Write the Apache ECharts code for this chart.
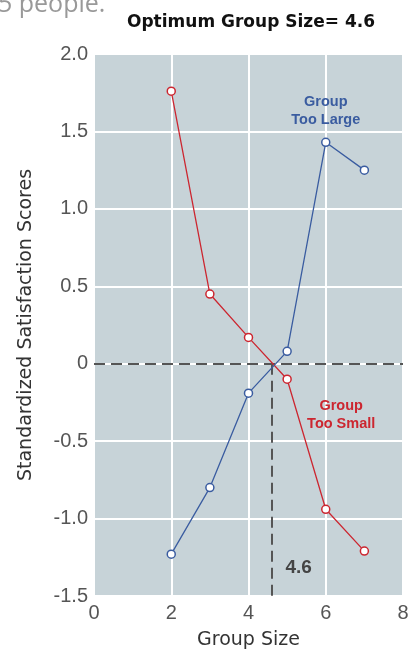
<!DOCTYPE html>
<html>
<head>
<meta charset="utf-8">
<script src="https://cdn.jsdelivr.net/npm/echarts@6/dist/echarts.min.js"></script>
<style>
  html, body { margin: 0; padding: 0; background: #fff; }
  #chart { width: 411px; height: 652px; }
</style>
</head>
<body>
<div id="chart"></div>
<script>
// group sizes on the x axis
const groupSize = [2, 3, 4, 5, 6, 7]
// "too small" curve (red) and "too large" curve (blue)
const tooSmall = [1.76, 0.45, 0.17, -0.10, -0.94, -1.21]
const tooLarge = [-1.23, -0.80, -0.19, 0.08, 1.43, 1.25]
const optimum = 4.6

const red = '#cc2630'
const blue = '#3a5ca0'

const pairs = (ys) => groupSize.map((x, i) => [x, ys[i]])

const chart = echarts.init(document.getElementById('chart'))

const option = {
    backgroundColor: '#fff',
    title: {
        text: 'Optimum Group Size= 4.6',
        left: 246,
        textAlign: 'center',
        top: 9,
        textStyle: { fontFamily: 'DejaVu Sans', fontWeight: 'bold', fontSize: 17, color: '#111' }
    },
    graphic: [{
        type: 'text',
        left: -2,
        top: -8,
        style: { text: '5 people.', font: '25px "Open Sans"', fill: '#999' }
    }],
    grid: {
        left: 94,
        right: 8,
        top: 54,
        bottom: 56,
        outerBoundsMode: 'none',
        show: true,
        backgroundColor: '#c7d3d8',
        borderWidth: 0
    },
    xAxis: {
        type: 'value',
        min: 0,
        max: 8,
        interval: 2,
        name: 'Group Size',
        nameLocation: 'middle',
        nameGap: 35,
        nameTextStyle: { fontFamily: 'DejaVu Sans', fontSize: 19, color: '#333' },
        axisLine: { show: false },
        axisTick: { show: false },
        axisLabel: { fontFamily: 'Liberation Sans', fontSize: 20, color: '#555', margin: 7 },
        splitLine: { lineStyle: { color: '#fff', width: 2 } }
    },
    yAxis: {
        type: 'value',
        min: -1.5,
        max: 2,
        interval: 0.5,
        name: 'Standardized Satisfaction Scores',
        nameLocation: 'middle',
        nameGap: 58,
        nameTextStyle: { fontFamily: 'DejaVu Sans', fontSize: 19, color: '#333' },
        axisLine: { show: false },
        axisTick: { show: false },
        axisLabel: {
            fontFamily: 'Liberation Sans', fontSize: 20, color: '#555', margin: 6,
            formatter: v => v === 0 ? '0' : v.toFixed(1)
        },
        splitLine: { lineStyle: { color: '#fff', width: 2 } }
    },
    series: [
        {
            name: 'Group Too Small',
            type: 'line',
            data: pairs(tooSmall),
            symbol: 'circle',
            symbolSize: 8,
            z: 5,
            lineStyle: { color: red, width: 1.3 },
            itemStyle: { color: '#fff', borderColor: red, borderWidth: 1.5 },
            markLine: {
                silent: true,
                symbol: 'none',
                z: 3,
                label: { show: false },
                lineStyle: { color: '#555', width: 2, type: [11, 6] },
                data: [
                    [{ coord: [0, 0] }, { coord: [8, 0] }],
                    [{ coord: [optimum, 0] }, { coord: [optimum, -1.5] }]
                ]
            },
            markPoint: {
                silent: true,
                symbol: 'circle',
                symbolSize: 0,
                data: [
                    {
                        coord: [6.4, -0.33],
                        label: {
                            show: true, formatter: 'Group\nToo Small', color: red,
                            fontFamily: 'Liberation Sans', fontWeight: 'bold', fontSize: 14.5, lineHeight: 18
                        }
                    },
                    {
                        coord: [5.3, -1.32],
                        label: {
                            show: true, formatter: '4.6', color: '#444',
                            fontFamily: 'Liberation Sans', fontWeight: 'bold', fontSize: 19
                        }
                    }
                ]
            }
        },
        {
            name: 'Group Too Large',
            type: 'line',
            data: pairs(tooLarge),
            symbol: 'circle',
            symbolSize: 8,
            z: 5,
            lineStyle: { color: blue, width: 1.3 },
            itemStyle: { color: '#fff', borderColor: blue, borderWidth: 1.5 },
            markPoint: {
                silent: true,
                symbol: 'circle',
                symbolSize: 0,
                data: [
                    {
                        coord: [6.0, 1.63],
                        label: {
                            show: true, formatter: 'Group\nToo Large', color: blue,
                            fontFamily: 'Liberation Sans', fontWeight: 'bold', fontSize: 14.5, lineHeight: 18
                        }
                    }
                ]
            }
        }
    ]
}

chart.setOption(option)
</script>
</body>
</html>
